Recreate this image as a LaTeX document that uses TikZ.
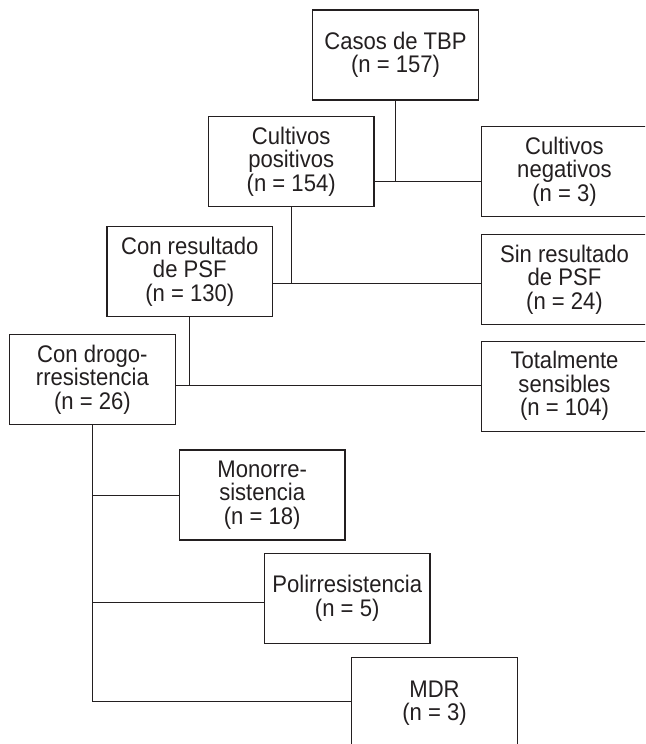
\documentclass[tikz,border=0pt]{standalone}
\usepackage{fontspec}
\setmainfont{Liberation Sans}[FakeStretch=0.92]
\definecolor{ink}{HTML}{231F20}
\tikzset{
  box/.style={draw=ink, line width=1.1pt, text=ink, minimum width=165.6pt, minimum height=90pt,
    inner sep=0pt, align=center, font=\fontsize{24pt}{23.5pt}\selectfont},
  link/.style={draw=ink, line width=1.1pt}
}
\begin{document}
\begin{tikzpicture}[x=1pt,y=-1pt]
\useasboundingbox (0,0) rectangle (645,744);
\clip (0,0) rectangle (645,744);
\node[box] (casos) at (395.5,55) {Casos de TBP\\(n = 157)};
\node[box] (pos) at (291.2,161.7) {Cultivos\\positivos\\(n = 154)};
\node[box] (neg) at (564.5,171.7) {Cultivos\\negativos\\(n = 3)};
\node[box] (conres) at (189.8,271.7) {Con resultado\\de PSF\\(n = 130)};
\node[box] (sinres) at (564.5,279.5) {Sin resultado\\de PSF\\(n = 24)};
\node[box] (condrogo) at (92.4,379.5) {Con drogo-\\rresistencia\\(n = 26)};
\node[box] (total) at (564.5,386.2) {Totalmente\\sensibles\\(n = 104)};
\node[box] (mono) at (262.2,495) {Monorre-\\sistencia\\(n = 18)};
\node[box] (poli) at (347.2,598.3) {Polirresistencia\\(n = 5)};
\node[box, minimum height=92pt] (mdr) at (434.5,703.3) {MDR\\(n = 3)};
\coordinate (j1) at (395.5,181.7);
\coordinate (j2) at (291.2,283.3);
\coordinate (j3) at (189.8,385.7);
\coordinate (j4) at (92.4,701.7);
\draw[link] (casos.south) -- (j1);
\draw[link] (pos.east |- j1) -- (neg.west |- j1);
\draw[link] (pos.south) -- (j2);
\draw[link] (conres.east |- j2) -- (sinres.west |- j2);
\draw[link] (conres.south) -- (j3);
\draw[link] (condrogo.east |- j3) -- (total.west |- j3);
\draw[link] (condrogo.south) -- (j4) -- (mdr.west |- j4);
\draw[link] (condrogo.south |- 0,495.7) -- (mono.west |- 0,495.7);
\draw[link] (condrogo.south |- 0,602.3) -- (poli.west |- 0,602.3);
\end{tikzpicture}
\end{document}
